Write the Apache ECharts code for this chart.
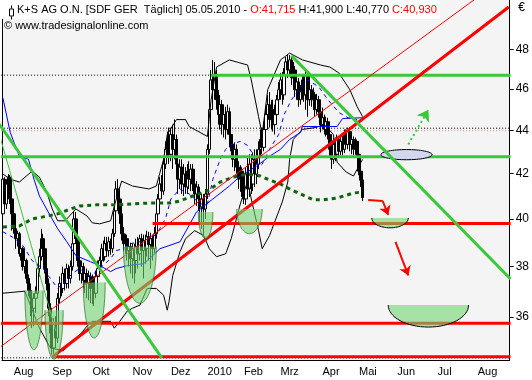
<!DOCTYPE html>
<html><head><meta charset="utf-8">
<script src="https://cdn.jsdelivr.net/npm/echarts@6/dist/echarts.min.js"></script>
<style>html,body{margin:0;padding:0;background:#fff}#c{width:532px;height:380px}</style>
</head><body><div id="c"></div><script>
// ---------- data ----------
const titleName = 'K+S AG O.N. [SDF GER  Täglich] 05.05.2010';
const sourceText = '© www.tradesignalonline.com';
const firstDay = [2009, 6, 24], lastDay = [2010, 7, 25];
const holidays = ['2009-12-24','2009-12-25','2009-12-31','2010-01-01','2010-04-02','2010-04-05'];
const monthNames = ['2010','Feb','Mrz','Apr','Mai','Jun','Jul','Aug','Sep','Okt','Nov','Dez'];
const yTicks = [36, 38, 40, 42, 44, 46, 48];
const yMin = 34.37, yMax = 50.62;
// daily candles [open, high, low, close]
const candles = [
[40.22,42.11,40.09,41.75],[41.75,41.84,40.43,40.65],[40.65,41.75,40.43,41.53],[41.53,41.98,41.31,41.84],[41.84,41.93,40.65,40.87],[40.87,41.09,39.50,40.22],
[40.22,40.65,39.37,39.58],[39.58,39.66,38.74,39.16],[39.16,39.50,38.83,39.37],[39.37,39.45,38.41,38.53],[38.53,38.95,38.25,38.74],[38.74,38.83,37.84,38.00],[38.00,38.41,37.72,38.25],[38.25,38.33,37.32,37.52],[37.52,37.68,36.81,37.04],[37.04,37.32,36.03,36.73],[36.73,36.93,35.57,36.34],[36.34,36.93,35.64,36.73],[36.73,37.20,36.15,36.93],[36.93,38.12,36.73,37.92],[37.92,38.74,37.60,38.41],[38.41,39.58,38.25,39.16],[39.16,39.37,38.41,38.74],[38.74,38.95,37.72,37.92],[37.92,38.12,37.04,37.32],[37.32,37.52,36.03,36.34],[36.34,36.53,35.01,35.38],
[35.38,35.57,34.57,34.82],[34.82,35.95,34.60,35.76],[35.76,36.03,34.90,35.19],[35.19,36.93,35.01,36.73],[36.73,37.60,36.53,37.32],[37.32,37.72,36.81,37.12],[37.12,38.00,36.93,37.72],[37.72,37.92,37.04,37.32],[37.32,38.12,37.12,37.92],[37.92,38.08,37.12,37.52],[37.52,38.25,37.32,38.00],[38.00,39.16,37.84,38.95],[38.95,40.35,38.83,40.00],[40.00,40.30,38.95,39.16],[39.16,39.33,38.00,38.25],[38.25,38.53,37.44,37.72],[37.72,38.25,37.32,38.00],[38.00,38.16,37.12,37.44],[37.44,37.92,36.93,37.72],[37.72,37.92,36.73,37.32],[37.32,37.84,36.65,37.60],[37.60,37.76,36.53,37.12],
[37.12,37.68,36.50,37.44],[37.44,37.60,36.42,36.93],[36.93,37.84,36.73,37.60],[37.60,38.25,37.32,37.92],[37.92,38.41,37.60,38.25],[38.25,38.95,38.00,38.74],[38.74,39.08,38.20,38.41],[38.41,39.24,38.25,38.95],[38.95,39.24,38.41,38.66],[38.66,39.24,38.41,39.03],[39.03,39.16,38.49,38.74],[38.74,39.58,38.57,39.37],[39.37,40.65,39.24,40.35],[40.35,41.66,40.22,41.31],[41.31,41.75,40.43,40.87],[40.87,41.40,39.79,40.22],[40.22,40.65,39.08,39.37],[39.37,39.66,38.66,38.95],[38.95,39.37,38.53,39.16],[39.16,39.33,38.25,38.66],[38.66,39.08,38.00,38.83],[38.83,38.99,37.72,38.33],
[38.33,38.95,37.52,38.74],[38.74,38.95,37.32,38.25],[38.25,39.16,37.72,38.83],[38.83,39.24,37.92,38.53],[38.53,39.33,38.25,39.16],[39.16,39.37,38.00,38.66],[38.66,39.33,37.52,39.08],[39.08,39.33,38.12,38.74],[38.74,39.50,38.41,39.24],[39.24,39.45,38.25,38.91],[38.91,39.41,37.92,39.16],[39.16,39.33,38.25,38.74],[38.74,39.66,38.53,39.37],[39.37,40.43,39.16,40.22],[40.22,41.09,39.92,40.87],[40.87,41.84,40.61,41.53],[41.53,41.93,40.87,41.22],[41.22,42.74,41.05,42.43],[42.43,43.48,42.20,43.11],[43.11,43.94,42.74,43.57],[43.57,44.13,42.43,42.88],
[42.88,44.13,42.56,43.80],[43.80,44.27,42.20,43.11],[43.11,44.51,42.65,43.57],[43.57,43.80,41.98,42.43],[42.43,43.11,41.09,41.75],[41.75,42.65,41.31,42.29],[42.29,42.65,41.09,41.53],[41.53,42.43,41.00,41.98],[41.98,42.29,41.09,41.40],[41.40,42.43,41.09,42.11],[42.11,42.56,41.31,41.75],[41.75,42.43,41.22,42.20],[42.20,42.43,41.22,41.53],[41.53,41.84,40.65,41.09],[41.09,41.66,40.56,41.40],[41.40,41.53,40.35,40.87],[40.87,41.05,39.79,40.52],[40.52,41.09,39.58,40.87],[40.87,41.09,39.24,40.43],[40.43,41.31,40.00,41.09],
[41.09,43.34,40.87,43.11],[43.11,45.47,42.88,44.99],[44.99,46.95,44.75,46.45],[46.45,47.46,45.71,45.96],[45.96,47.36,45.47,46.70],[46.70,46.95,44.99,45.47],[45.47,45.96,44.27,44.75],[44.75,45.71,44.04,45.23],[45.23,45.47,43.80,44.27],[44.27,45.09,43.66,44.75],[44.75,45.13,43.57,44.04],[44.04,45.23,43.80,44.89],[44.89,45.09,43.20,43.80],[43.80,44.27,43.02,43.34],[43.34,43.57,42.29,42.65],[42.65,43.43,42.11,43.11],[43.11,43.34,41.98,42.29],[42.29,42.56,41.31,41.75],[41.75,42.38,41.18,42.11],[42.11,42.29,40.96,41.40],
[41.40,41.75,40.65,40.87],[40.87,42.29,40.61,41.98],[41.98,42.74,40.87,41.31],[41.31,42.88,40.96,42.43],[42.43,42.88,41.09,41.53],[41.53,42.97,41.22,42.65],[42.65,43.11,41.40,41.98],[41.98,43.11,41.53,42.43],[42.43,43.48,42.20,43.11],[43.11,44.04,42.74,43.57],[43.57,44.13,42.88,43.20],[43.20,44.41,43.02,44.04],[44.04,45.09,43.80,44.75],[44.75,45.71,44.27,45.23],[45.23,45.86,44.13,44.51],[44.51,45.47,44.04,44.99],[44.99,45.47,43.94,44.27],[44.27,45.23,43.80,44.75],[44.75,45.71,44.51,45.47],[45.47,46.35,44.99,45.96],
[45.96,46.80,45.47,46.45],[46.45,46.85,45.23,45.71],[45.71,47.05,45.47,46.70],[46.70,47.61,46.45,47.36],[47.36,47.71,46.55,46.95],[46.95,47.71,46.65,47.46],[47.46,47.66,46.20,46.55],[46.55,47.36,46.06,46.95],[46.95,47.15,45.61,45.96],[45.96,46.65,45.47,46.35],[46.35,46.55,45.13,45.47],[45.47,46.20,45.23,45.86],[45.86,46.65,45.47,46.45],[46.45,46.75,45.37,45.71],[45.71,46.85,44.99,46.70],[46.70,46.80,44.65,45.47],[45.47,46.25,45.18,45.96],[45.96,46.20,45.13,45.47],[45.47,46.06,44.99,45.71],[45.71,45.86,44.65,44.99],[44.99,45.76,44.75,45.47],[45.47,45.66,44.60,44.89],[44.89,45.18,43.90,44.27],
[44.27,45.09,44.04,44.60],[44.60,44.75,43.80,44.04],[44.04,44.65,43.71,44.41],[44.41,44.60,43.57,43.80],[43.80,44.04,42.74,43.11],[43.11,43.57,42.20,42.65],[42.65,43.66,42.43,43.34],[43.34,43.66,42.56,42.88],[42.88,43.80,42.74,43.57],[43.57,43.71,42.79,43.02],[43.02,43.71,42.83,43.48],[43.48,43.80,42.83,43.11],[43.11,44.04,42.93,43.80],[43.80,44.04,43.11,43.34],[43.34,44.13,43.11,43.94],[43.94,44.04,43.02,43.34],[43.34,43.80,42.88,43.57],[43.57,43.71,42.83,43.11],[43.11,43.66,42.88,43.48],[43.48,43.57,42.74,42.88],
[42.88,43.11,41.93,42.11],[42.11,42.29,41.40,41.70],[41.715,41.90,40.77,40.93]
];
// indicator lines [trading-day index, price]
const upperBand = [[0,41.98],[4,41.75],[9,41.62],[16,42.11],[20,41.84],[24,41.18],[27,40.43],[30,39.92],[34,39.92],[40,40.43],[46,40.13],[49,39.83],[53,39.79],[59,39.92],[61,40.56],[65,41.66],[71,41.44],[80,41.31],[84,41.44],[88,42.65],[90,43.80],[95,44.51],[100,44.51],[102,44.18],[108,43.90],[112,43.71],[114,45.47],[117,47.10],[124,47.46],[134,47.20],[136,46.45],[140,44.65],[142,43.80],[145,45.96],[152,47.46],[157,47.81],[164,47.46],[174,47.20],[179,47.10],[184,46.80],[190,45.96],[194,45.13],[197,44.65]];
const lowerBand = [[0,36.93],[12,37.01],[20,35.57],[26,34.82],[33,34.71],[42,35.30],[46,35.64],[49,35.83],[59,35.83],[61,35.57],[64,35.83],[68,36.22],[71,36.34],[75,36.46],[79,37.12],[84,37.12],[88,36.85],[90,36.26],[91,36.61],[93,37.64],[97,38.62],[100,39.16],[105,39.50],[110,39.29],[113,38.74],[117,38.41],[122,38.53],[125,39.16],[130,40.65],[134,41.66],[136,40.87],[140,39.50],[142,38.74],[146,39.29],[153,40.74],[156,41.62],[157,42.65],[159,43.57],[164,44.04],[171,44.13],[176,44.27],[181,43.80],[183,42.52],[188,42.07],[192,41.89],[194,42.20],[197,42.65]];
const blueSolid = [[0,45.56],[4,43.90],[9,42.79],[14,42.65],[17,41.75],[20,41.00],[26,40.13],[30,39.58],[35,39.03],[40,38.45],[48,38.20],[53,38.04],[59,37.80],[62,37.92],[68,38.04],[77,38.12],[82,38.45],[86,38.74],[97,39.03],[106,40.30],[115,40.87],[124,41.44],[130,41.89],[139,42.34],[146,42.79],[152,43.11],[157,43.57],[163,43.90],[164,44.18],[183,44.18],[186,44.56],[197,44.60]];
const blueDashed = [[0,39.45],[5,39.24],[11,38.87],[16,38.25],[22,37.92],[26,37.52],[30,37.12],[34,37.40],[38,37.72],[42,37.92],[48,37.60],[53,37.92],[59,38.33],[62,38.66],[66,38.74],[70,38.95],[75,39.03],[80,39.16],[84,39.33],[89,40.00],[92,40.87],[97,41.31],[102,41.09],[108,40.65],[112,40.65],[115,41.75],[119,42.65],[122,43.11],[125,43.34],[130,43.48],[134,43.29],[137,42.88],[140,42.29],[142,42.43],[146,43.11],[151,43.80],[154,44.75],[158,45.47],[163,46.06],[167,46.45],[173,46.10],[178,45.47],[184,44.85],[189,44.60],[194,44.51]];
const longAverage = [[0,39.66],[9,39.70],[16,40.00],[22,40.09],[30,40.22],[37,40.43],[42,40.56],[51,40.61],[60,40.61],[71,40.65],[80,40.69],[91,40.69],[97,40.78],[104,41.00],[112,41.22],[119,41.62],[126,41.84],[134,41.98],[141,41.89],[146,41.71],[152,41.53],[157,41.31],[163,41.09],[170,40.83],[175,40.83],[183,40.91],[192,41.13],[197,41.18]];
// horizontal levels [fromIndex, toIndex, price]
const dottedLevels = [[-1,278,46.69],[-1,278,44.10],[-1,278,34.45]];
const pinkLevels = [[-1,278,43.98]];
const greenLevels = [[114,278,46.69],[-1,278,42.77]];
const redLevels = [[82,278,39.80],[-1,278,35.76],[27,278,34.49]];
// trend lines [[index, price], [index, price]]
const redTrend = [[27,34.48],[277,50.24]];
const redThinTrend = [[-2,34.83],[258,50.63]];
const greenTrendA = [[-2,44.30],[87,34.45]];
const greenThinTrend = [[-2,43.81],[29,35.46]];
const greenTrendB = [[158,47.68],[278,37.50]];
// bowls [centerIndex, topPrice, halfWidthDays, bottomPrice, projected(0/1)]
const bowls = [[17,37.04,5,34.75,0],[28,36.26,5,34.40,0],[50,37.36,6,35.19,0],[75,38.83,9,36.53,0],[111,40.30,4,39.16,0],[135,40.43,7,39.37,0],[212,40.04,10,39.62,1],[233,36.46,22,35.61,1]];
const targetZone = [[221,43.10,14,42.63]];
// arrows
const redArrowA = [[200,40.82],[208,40.78]];
const redArrowB = [[208,40.78],[211,40.17]];
const redArrowC = [[215,39.03],[222,37.64]];
const greenArrow = [[222,43.34],[233,44.99]];

// ---------- build ----------
const days = [];
for (let d = new Date(Date.UTC(firstDay[0], firstDay[1], firstDay[2])); d.getTime() <= Date.UTC(lastDay[0], lastDay[1], lastDay[2]); d.setUTCDate(d.getUTCDate() + 1)) {
  const wd = d.getUTCDay(), s = d.toISOString().slice(0, 10);
  if (wd !== 0 && wd !== 6 && holidays.indexOf(s) < 0) days.push(s);
}
const isMonthStart = (i) => i > 0 && days[i].slice(0, 7) !== days[i - 1].slice(0, 7);
const L = Math.log;
const lnPts = (pts) => pts.map(p => [p[0], L(p[1])]);
const FONT = 'Liberation Sans';
function line(pts, color, width, type, z) {
  return {type: 'line', data: lnPts(pts), symbol: 'none', showSymbol: false, silent: true, clip: true, z: z,
          lineStyle: {color: color, width: width, type: type || 'solid'}};
}
const series = [];
dottedLevels.forEach(l => series.push(line([[l[0], l[2]], [l[1], l[2]]], '#000', 1, [1, 2], 1)));
pinkLevels.forEach(l => series.push(line([[l[0], l[2]], [l[1], l[2]]], '#e09090', 1, [1, 2], 1)));
series.push({type: 'candlestick', data: candles.map(c => [L(c[0]), L(c[3]), L(c[2]), L(c[1])]), barWidth: 3, silent: true, z: 2,
  itemStyle: {color: '#fff', color0: '#000', borderColor: '#000', borderColor0: '#000', borderWidth: 1}});
series.push(line(upperBand, '#000', 1, 'solid', 3));
series.push(line(lowerBand, '#000', 1, 'solid', 3));
series.push(line(blueSolid, '#0000ff', 1, 'solid', 3));
series.push(line(blueDashed, '#0000ff', 1, [4, 4], 3));
series.push(line(longAverage, '#0a640a', 3, [4, 4], 3));
greenLevels.forEach(l => series.push(line([[l[0], l[2]], [l[1], l[2]]], '#3ac83a', 3, 'solid', 4)));
redLevels.forEach(l => series.push(line([[l[0], l[2]], [l[1], l[2]]], '#ff0000', 3, 'solid', 4)));
series.push(line(redTrend, '#ff0000', 3, 'solid', 4));
series.push(line(redThinTrend, '#ff0000', 1, 'solid', 4));
series.push(line(greenTrendA, '#3ac83a', 3, 'solid', 4));
series.push(line(greenThinTrend, '#3ac83a', 1, 'solid', 4));

function halfEllipse(params, api, full) {
  const xc = api.value(0), top = api.value(1), hw = api.value(2), bot = api.value(3);
  const pl = api.coord([xc - hw, top]), pr = api.coord([xc + hw, top]), pb = api.coord([xc, bot]);
  const cx = (pl[0] + pr[0]) / 2, rx = (pr[0] - pl[0]) / 2;
  let cy = pl[1], ry = pb[1] - pl[1];
  if (full) { ry = ry / 2; cy = pl[1] + ry; }
  const n = full ? 64 : 32, pts = [];
  for (let k = 0; k <= n; k++) { const t = (full ? 2 : 1) * Math.PI * k / n; pts.push([cx + rx * Math.cos(t), cy + ry * Math.sin(t)]); }
  return {pts: pts, projected: api.value(4)};
}
series.push({type: 'custom', silent: true, z: 5, encode: {x: 0, y: [1, 3]},
  data: bowls.map(b => [b[0], L(b[1]), b[2], L(b[3]), b[4]]),
  renderItem: function (params, api) {
    const r = halfEllipse(params, api, false);
    return {type: 'group', children: [
      {type: 'polygon', shape: {points: r.pts}, style: {fill: 'rgba(114,211,114,0.6)'}},
      {type: 'polyline', shape: {points: r.pts}, style: {fill: null, stroke: r.projected ? '#000' : 'rgba(20,90,20,0.6)', lineWidth: 1}}
    ]};
  }});
series.push({type: 'custom', silent: true, z: 5, encode: {x: 0, y: [1, 3]},
  data: targetZone.map(b => [b[0], L(b[1]), b[2], L(b[3])]),
  renderItem: function (params, api) {
    const r = halfEllipse(params, api, true);
    return {type: 'polygon', shape: {points: r.pts}, style: {fill: '#d2d6ee', stroke: '#000', lineWidth: 1}};
  }});
series.push(line(greenTrendB, '#3ac83a', 3, 'solid', 6));
series.push({type: 'lines', coordinateSystem: 'cartesian2d', silent: true, z: 6, symbol: ['none', 'none'],
  lineStyle: {color: '#ff0000', width: 2, opacity: 1}, data: [{coords: lnPts(redArrowA)}]});
series.push({type: 'lines', coordinateSystem: 'cartesian2d', silent: true, z: 6, symbol: ['none', 'arrow'], symbolSize: [4, 9],
  lineStyle: {color: '#ff0000', width: 2, opacity: 1}, data: [{coords: lnPts(redArrowB)}, {coords: lnPts(redArrowC)}]});
series.push({type: 'lines', coordinateSystem: 'cartesian2d', silent: true, z: 6, symbol: ['none', 'arrow'], symbolSize: [4, 11],
  lineStyle: {color: '#3ac83a', width: 2, opacity: 1, type: [2, 3]}, data: [{coords: lnPts(greenArrow)}]});

// ---------- header text (measured so the coloured parts sit side by side) ----------
const last = candles[candles.length - 1];
const f3 = v => v.toFixed(3).replace('.', ',');
const headerParts = [
  [titleName + ' - ', '#000'],
  ['O:' + f3(last[0]), '#ff0000'],
  [' H:' + f3(last[1]) + ' L:' + f3(last[2]) + ' ', '#000'],
  ['C:' + f3(last[3]), '#ff0000']
];
const mctx = document.createElement('canvas').getContext('2d');
mctx.font = '11px "' + FONT + '"';
let hx = 17;
const titles = [];
headerParts.forEach(p => {
  titles.push({left: hx, top: 4, padding: 0, z: 20, text: p[0],
    textStyle: {fontWeight: 'normal', fontSize: 11, fontFamily: FONT, color: p[1]}});
  hx += mctx.measureText(p[0]).width;
});
titles.push({left: 4, top: 20, padding: 0, z: 20, text: sourceText,
  textStyle: {fontWeight: 'normal', fontSize: 11, fontFamily: FONT, color: '#000'}});

const yAxisBase = {type: 'value', min: L(yMin), max: L(yMax), splitLine: {show: false}};
const chart = echarts.init(document.getElementById('c'), null, {renderer: 'canvas'});
chart.setOption({
  animation: false,
  backgroundColor: '#fff',
  textStyle: {fontFamily: FONT},
  title: titles,
  graphic: [
    {type: 'rect', left: 0, top: 0, z: 8, shape: {width: hx + 3, height: 19}, style: {fill: '#fff'}},
    {type: 'group', left: 9, top: 3, z: 20, children: [
      {type: 'line', z: 20, shape: {x1: 2.5, y1: 0, x2: 2.5, y2: 3}, style: {stroke: '#000', lineWidth: 1}},
      {type: 'rect', z: 20, shape: {x: 0.5, y: 3.5, width: 4, height: 7}, style: {fill: '#fff', stroke: '#000', lineWidth: 1}},
      {type: 'line', z: 20, shape: {x1: 2.5, y1: 11, x2: 2.5, y2: 14}, style: {stroke: '#000', lineWidth: 1}}
    ]},
    {type: 'text', right: 7, top: 2, z: 20, style: {text: '€', font: '12px ' + FONT, fill: '#000'}}
  ],
  grid: {left: 2, right: 22, top: 0, bottom: 20, show: true, backgroundColor: '#f4f4f4', borderWidth: 0},
  xAxis: {type: 'category', data: days, boundaryGap: true,
    axisLine: {onZero: false, lineStyle: {color: '#000', width: 1}},
    axisTick: {interval: isMonthStart, length: 4, lineStyle: {color: '#000'}},
    axisLabel: {interval: isMonthStart, align: 'left', margin: 6, color: '#000', fontSize: 11, fontFamily: FONT,
      formatter: v => monthNames[+v.slice(5, 7) - 1]},
    splitLine: {show: false}},
  yAxis: [Object.assign({}, yAxisBase, {position: 'right',
      axisLine: {show: true, lineStyle: {color: '#000'}},
      axisTick: {show: true, length: 4, customValues: yTicks.map(L), lineStyle: {color: '#000'}},
      axisLabel: {show: true, customValues: yTicks.map(L), margin: 6, color: '#000', fontSize: 12, fontFamily: FONT,
        formatter: v => String(Math.round(Math.exp(v)))}}),
    Object.assign({}, yAxisBase, {position: 'left', axisLine: {show: true, lineStyle: {color: '#000'}},
      axisTick: {show: false}, axisLabel: {show: false}})],
  series: series
});
</script></body></html>
